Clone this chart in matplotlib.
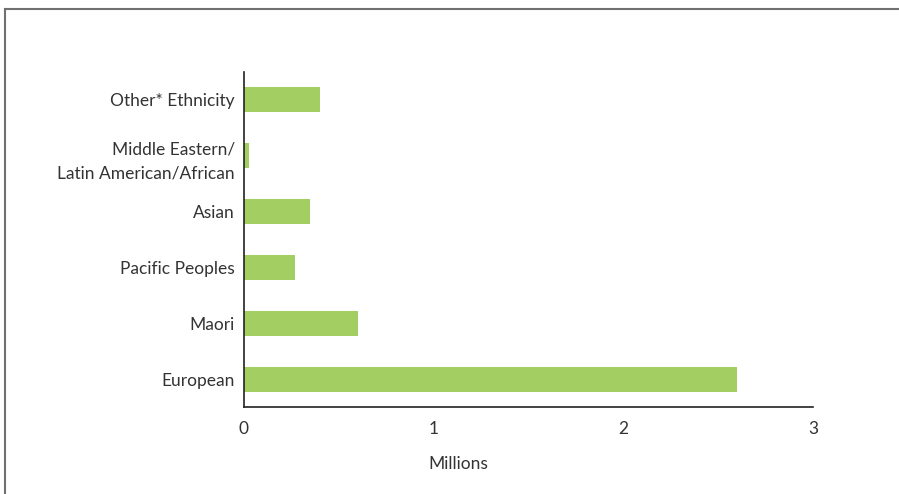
import matplotlib.pyplot as plt
from matplotlib.lines import Line2D

categories = ["European", "Maori", "Pacific Peoples", "Asian",
              "Middle Eastern/\nLatin American/African", "Other* Ethnicity"]
values = [2.60, 0.60, 0.27, 0.35, 0.026, 0.40]
xticks = [0, 1, 2, 3]

plt.rcParams['font.family'] = ['Lato', 'DejaVu Sans']

fig = plt.figure(figsize=(8.99, 4.94), dpi=100)
ax = fig.add_axes([0.2714, 0.1761, 0.6329, 0.6782])

ypos = range(len(categories))
ax.barh(ypos, values, height=0.45, color="#a3cf62")
ax.set_ylim(-0.5, 5.5)
ax.set_xlim(0, 3)
ax.set_xticks(xticks)
ax.set_yticks(list(ypos))
ax.set_yticklabels(categories, fontsize=12.5, color="#333333", linespacing=1.6)
ax.tick_params(axis="x", labelsize=12.5, colors="#333333", length=0, pad=10)
ax.tick_params(axis="y", length=0, pad=6.5)
for s in ["top", "right"]:
    ax.spines[s].set_visible(False)
for s in ["left", "bottom"]:
    ax.spines[s].set_color("#222222")
    ax.spines[s].set_linewidth(1.2)
ax.set_xlabel("Millions", fontsize=12.5, color="#333333")
ax.xaxis.set_label_coords(0.376, -0.145)

fig.add_artist(Line2D([5 / 899, 5 / 899], [0, 1 - 9 / 494], transform=fig.transFigure,
                      color="#707070", lw=1.5))
fig.add_artist(Line2D([5 / 899, 1], [1 - 9 / 494, 1 - 9 / 494], transform=fig.transFigure,
                      color="#707070", lw=1.5))

fig.savefig("out.png", dpi=100)
